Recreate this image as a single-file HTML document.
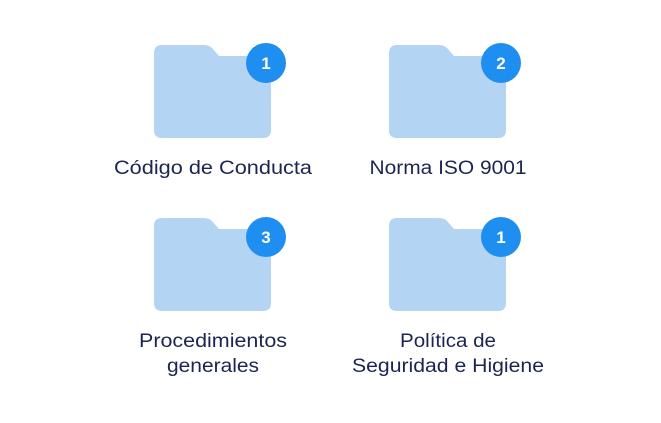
<!DOCTYPE html>
<html><head><meta charset="utf-8"><style>
html,body{margin:0;padding:0;background:#fff;}
svg{display:block}
text{font-family:"Liberation Sans",sans-serif;fill:#1c2552;font-size:19px;text-anchor:middle}
.b{fill:#fff;font-size:17px;font-weight:bold}
</style></head><body>
<svg width="661" height="423" viewBox="0 0 661 423">
<defs>
<path id="f" d="M0,8 Q0,0 8,0 L50,0 Q55,0 58,3 L65,11 L109,11 Q117,11 117,19 L117,85 Q117,93 109,93 L8,93 Q0,93 0,85 Z" fill="#b3d5f3"/>
</defs>
<use href="#f" x="154" y="45"/>
<use href="#f" x="389" y="45"/>
<use href="#f" x="154" y="218"/>
<use href="#f" x="389" y="218"/>
<circle cx="266" cy="63" r="20" fill="#1e8ef0"/><text class="b" x="266" y="69">1</text>
<circle cx="501" cy="63" r="20" fill="#1e8ef0"/><text class="b" x="501" y="69">2</text>
<circle cx="266" cy="237" r="20" fill="#1e8ef0"/><text class="b" x="266" y="243">3</text>
<circle cx="501" cy="237" r="20" fill="#1e8ef0"/><text class="b" x="501" y="243">1</text>
<text x="213" y="174" textLength="198" lengthAdjust="spacingAndGlyphs">Código de Conducta</text>
<text x="448" y="174" textLength="157" lengthAdjust="spacingAndGlyphs">Norma ISO 9001</text>
<text x="213" y="347" textLength="148" lengthAdjust="spacingAndGlyphs">Procedimientos</text>
<text x="213" y="372" textLength="92" lengthAdjust="spacingAndGlyphs">generales</text>
<text x="448" y="347" textLength="96" lengthAdjust="spacingAndGlyphs">Política de</text>
<text x="448" y="372" textLength="192" lengthAdjust="spacingAndGlyphs">Seguridad e Higiene</text>
</svg>
</body></html>
